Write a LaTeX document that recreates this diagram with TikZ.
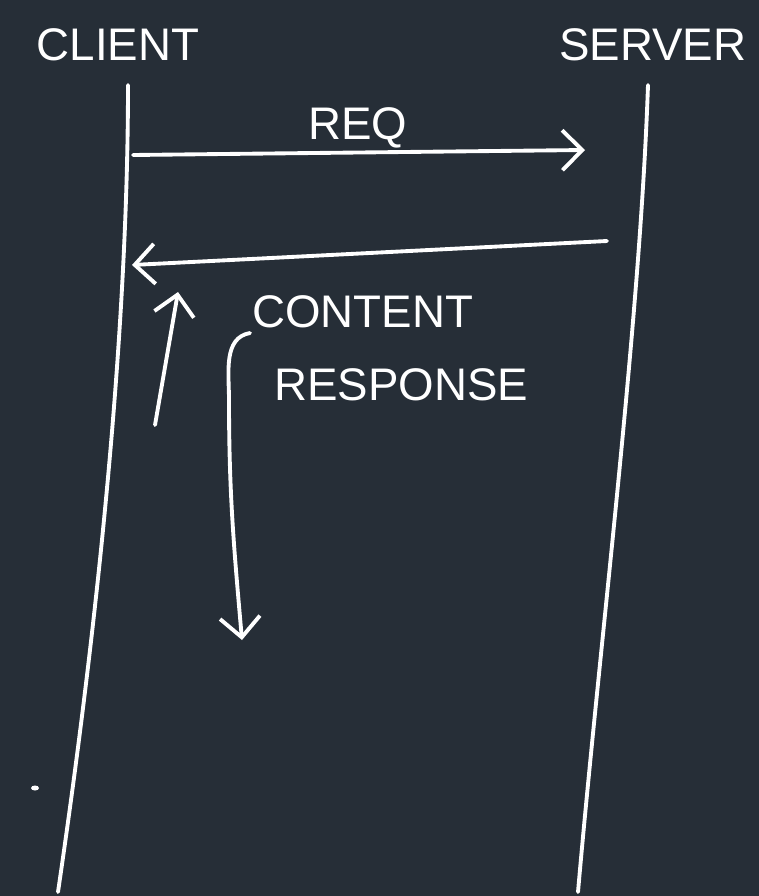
\documentclass[tikz,border=0pt]{standalone}
\usepackage{fontspec}
\setmainfont{Liberation Sans}
\usetikzlibrary{arrows.meta, positioning}
\definecolor{board}{RGB}{38,46,55}

\begin{document}
\begin{tikzpicture}[x=0.02cm, y=-0.02cm, node distance=5cm]
    % Styles
    \tikzstyle{lbl} = [text=white, font=\fontsize{26}{30}\selectfont, inner sep=0pt]
    \tikzstyle{life} = [draw=white, line width=2.2pt, line cap=round]
    \tikzstyle{conn} = [draw=white, line width=2.2pt, line cap=round, line join=round, -{Straight Barb[length=4mm, width=8mm, line width=2.2pt]}]

    % Board
    \fill[board] (0,0) rectangle (759,896);

    % Nodes
    \node [lbl] (client) at (118,45) {CLIENT};
    \node [lbl, right of=client, node distance=10.7cm] (server) {SERVER};
    \node [lbl] (req) at (358,128) {REQ};
    \node [lbl, anchor=west] (content) at (252,312) {CONTENT};
    \node [lbl, anchor=west] (response) at (274,385) {RESPONSE};

    % Lifelines
    \coordinate (ctop) at (128,85);
    \coordinate (cbot) at (58,892);
    \coordinate (stop) at (648,85);
    \coordinate (sbot) at (578,892);
    \draw [life] (ctop) .. controls (128,340) and (95,640) .. (cbot);
    \draw [life] (stop) .. controls (640,320) and (600,640) .. (sbot);

    % Connections
    \coordinate (reqs) at (133,155);
    \coordinate (reqe) at (585,150);
    \coordinate (ress) at (607,241);
    \coordinate (rese) at (132,265);
    \coordinate (ups) at (155,425);
    \coordinate (upe) at (178,292);
    \coordinate (dns) at (250,333);
    \coordinate (dne) at (242,640);
    \path [conn] (reqs) -- (reqe);
    \path [conn] (ress) -- (rese);
    \path [conn] (ups) -- (upe);
    \path [conn] (dns) to[out=190, in=90] (229,400) to[out=-90, in=95] (dne);

    % Stray mark
    \fill[white] (35,788) ellipse (4 and 2.5);

\end{tikzpicture}
\end{document}
